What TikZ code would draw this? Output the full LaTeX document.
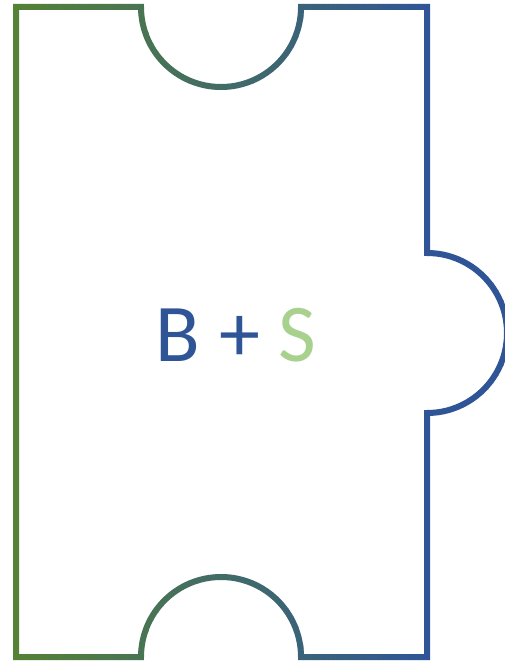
\documentclass[tikz,border=0pt]{standalone}
\usepackage{fontspec}
\setmainfont{Carlito}
\usetikzlibrary{positioning}
\definecolor{pzGreen}{HTML}{548235}
\definecolor{pzBlue}{HTML}{2F5597}
\definecolor{pzLight}{HTML}{A9D18E}
\newcommand\pzoutline{(16,7) -- (141,7) arc[start angle=180,end angle=0,radius=80]
  -- (427,7) -- (427,253) arc[start angle=270,end angle=450,radius=80]
  -- (427,657) -- (301,657) arc[start angle=0,end angle=-180,radius=80]
  -- (16,657) -- cycle}
\begin{document}
\begin{tikzpicture}[x=1pt,y=-1pt]
  \useasboundingbox (0,0) rectangle (504,663);
  % ---- outline, green to blue ----
  \foreach \i in {0,...,103}{
    \pgfmathsetmacro\xa{8+5*\i}
    \pgfmathsetmacro\pc{max(0,min(100,(\xa-10.5)/4.17))}
    \begin{scope}
      \clip (\xa,-5) rectangle (\xa+5.3,670);
      \draw[pzBlue!\pc!pzGreen,line width=6] \pzoutline;
    \end{scope}
  }
  % ---- label ----
  \node[font=\fontsize{82}{90}\selectfont,inner sep=0] (label) at (236,335)
    {\color{pzBlue}B + \color{pzLight}S};
\end{tikzpicture}
\end{document}
